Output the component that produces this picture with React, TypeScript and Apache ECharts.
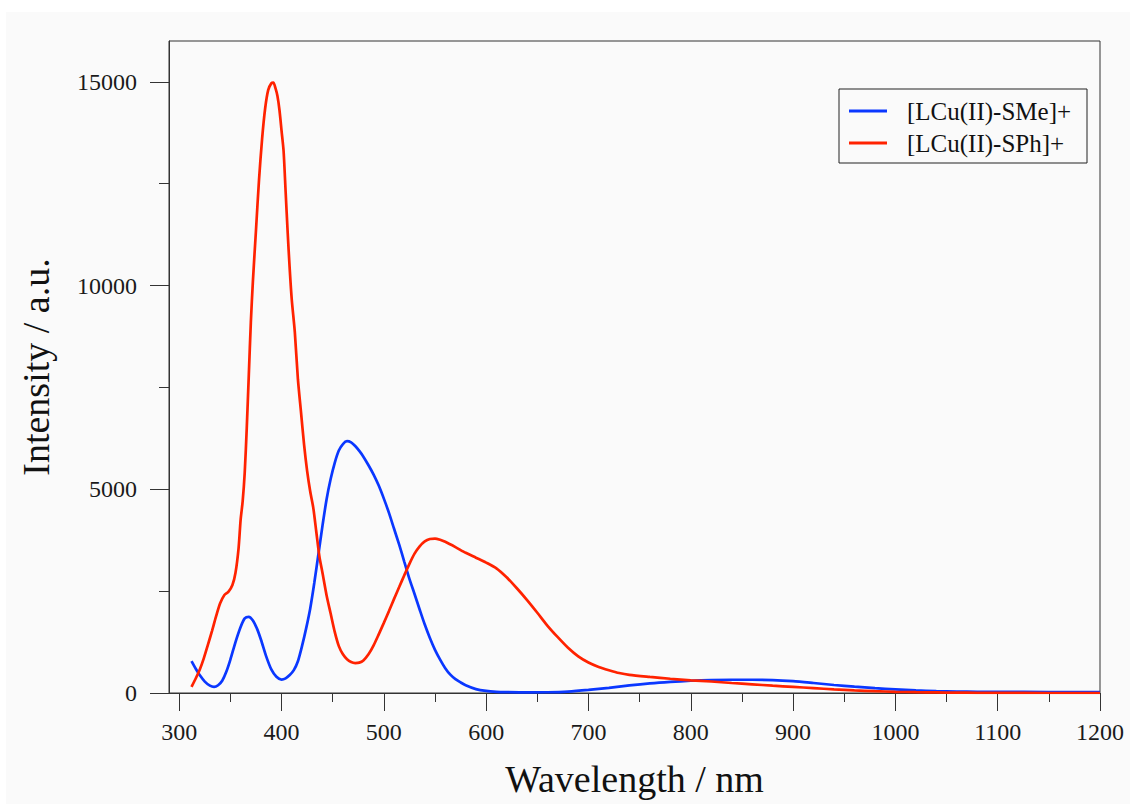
import React, { useEffect, useRef } from "react";
import * as echarts from "echarts";

const FONT = "'Liberation Serif', 'DejaVu Serif', serif";

const seriesNames = ["[LCu(II)-SMe]+", "[LCu(II)-SPh]+"];
const seriesColors = ["#0a37ff", "#ff2200"];

const xMajorTicks = [300, 400, 500, 600, 700, 800, 900, 1000, 1100, 1200];
const xMinorTicks = [350, 450, 550, 650, 750, 850, 950, 1050, 1150];
const yMajorTicks = [0, 5000, 10000, 15000];
const yMinorTicks = [2500, 7500, 12500];

const wlBlue = [
  312, 316, 320, 325, 330, 334, 338, 342, 346, 350, 355, 360, 364, 368, 372, 376, 380, 385, 390, 395,
  400, 404, 408, 412, 416, 420, 424, 428, 432, 436, 440, 444, 448, 452, 456, 460, 464, 468, 472, 476,
  480, 485, 490, 495, 500, 505, 510, 515, 520, 525, 530, 535, 540, 545, 550, 555, 560, 565, 570, 575,
  580, 590, 600, 610, 620, 640, 660, 680, 700, 720, 740, 760, 780, 800, 820, 840, 860, 880, 900, 920,
  940, 960, 980, 1000, 1020, 1040, 1060, 1080, 1100, 1150, 1200,
];
const intBlue = [
  780, 600, 440, 280, 180, 150, 190, 300, 520, 820, 1250, 1620, 1830, 1870, 1780, 1580, 1300, 900, 580, 400,
  330, 360, 440, 560, 780, 1150, 1580, 2070, 2700, 3400, 4100, 4750, 5250, 5650, 5950, 6110, 6180, 6150, 6060, 5940,
  5800, 5590, 5360, 5090, 4770, 4420, 4030, 3640, 3220, 2800, 2430, 2050, 1680, 1350, 1060, 820, 610, 450, 340, 260,
  190, 95, 50, 30, 22, 15, 18, 35, 75, 125, 185, 235, 272, 300, 318, 325, 325, 318, 290, 245,
  197, 155, 118, 90, 65, 47, 36, 30, 26, 25, 25,
];

const wlRed = [
  312, 316, 320, 324, 328, 332, 336, 340, 344, 348, 352, 355, 358, 360, 362, 364, 366, 368, 370, 372,
  375, 378, 381, 384, 387, 390, 392, 394, 396, 398, 400, 402, 404, 406, 408, 410, 413, 416, 419, 422,
  425, 428, 431, 434, 437, 440, 444, 448, 452, 456, 460, 464, 468, 472, 476, 480, 485, 490, 495, 500,
  505, 510, 515, 520, 525, 530, 535, 540, 545, 550, 555, 560, 570, 580, 590, 600, 610, 620, 630, 640,
  650, 660, 670, 680, 690, 700, 710, 720, 730, 740, 760, 780, 800, 820, 840, 860, 880, 900, 920, 940,
  960, 980, 1000, 1020, 1040, 1060, 1080, 1100, 1150, 1200,
];
const intRed = [
  150, 350, 570, 850, 1180, 1520, 1880, 2200, 2400, 2480, 2650, 2950, 3550, 4250, 4700, 5400, 6500, 7800, 9100, 10100,
  11350, 12600, 13600, 14350, 14800, 14960, 14980, 14850, 14650, 14300, 13800, 13300, 12300, 11300, 10400, 9650, 8850, 7700, 6900, 6100,
  5450, 4950, 4550, 3950, 3350, 2950, 2400, 1950, 1500, 1150, 950, 830, 760, 735, 745, 800, 950, 1170, 1440, 1720,
  2010, 2310, 2600, 2890, 3170, 3420, 3600, 3720, 3780, 3790, 3760, 3710, 3580, 3440, 3320, 3200, 3060, 2840, 2570, 2280,
  1970, 1650, 1370, 1110, 900, 750, 640, 560, 490, 445, 395, 350, 312, 282, 245, 212, 180, 150, 120, 90,
  65, 45, 30, 20, 14, 9, 5, 2, 0, 0,
];

export default function App() {
  const ref = useRef<HTMLDivElement>(null);

  useEffect(() => {
    if (!ref.current) return;
    const chart = echarts.init(ref.current, undefined, { renderer: "svg" });

    const labelStyle = {
      fontFamily: FONT,
      fontSize: 24,
      color: "#1a1a1a",
      formatter: (v: number) => String(v),
    };
    const axisLineStyle = { color: "#333", width: 1 };

    chart.setOption({
      animation: false,
      backgroundColor: "transparent",
      grid: {
        left: 169,
        top: 41,
        width: 931,
        height: 652,
        show: true,
        borderColor: "#333",
        borderWidth: 1,
        backgroundColor: "transparent",
      },
      legend: {
        left: 849,
        top: 98,
        orient: "vertical",
        icon: "rect",
        itemWidth: 38,
        itemHeight: 3,
        itemGap: 6,
        padding: 0,
        selectedMode: false,
        data: seriesNames,
        textStyle: {
          fontFamily: FONT,
          fontSize: 25,
          color: "#111",
          lineHeight: 26,
          padding: [0, 0, 0, 15],
        },
      },
      graphic: {
        elements: [
          {
            type: "rect",
            shape: { x: 839, y: 89, width: 248, height: 74 },
            style: { fill: "none", stroke: "#222", lineWidth: 1 },
            silent: true,
          },
        ],
      },
      xAxis: [
        {
          type: "value",
          min: 290,
          max: 1200,
          name: "Wavelength / nm",
          nameLocation: "middle",
          nameGap: 67,
          nameTextStyle: { fontFamily: FONT, fontSize: 38, color: "#111" },
          axisLine: { show: true, lineStyle: axisLineStyle },
          axisTick: { show: true, length: 18, lineStyle: axisLineStyle, customValues: xMajorTicks },
          axisLabel: { ...labelStyle, margin: 27, customValues: xMajorTicks },
          splitLine: { show: false },
        },
        {
          type: "value",
          min: 290,
          max: 1200,
          position: "bottom",
          axisLine: { show: false },
          axisTick: { show: true, length: 9, lineStyle: axisLineStyle, customValues: xMinorTicks },
          axisLabel: { show: false },
          splitLine: { show: false },
        },
      ],
      yAxis: [
        {
          type: "value",
          min: 0,
          max: 16000,
          name: "Intensity / a.u.",
          nameLocation: "middle",
          nameGap: 114,
          nameTextStyle: { fontFamily: FONT, fontSize: 38, color: "#111" },
          axisLine: { show: true, lineStyle: axisLineStyle },
          axisTick: { show: true, length: 19, lineStyle: axisLineStyle, customValues: yMajorTicks },
          axisLabel: { ...labelStyle, margin: 32, customValues: yMajorTicks },
          splitLine: { show: false },
        },
        {
          type: "value",
          min: 0,
          max: 16000,
          position: "left",
          axisLine: { show: false },
          axisTick: { show: true, length: 10, lineStyle: axisLineStyle, customValues: yMinorTicks },
          axisLabel: { show: false },
          splitLine: { show: false },
        },
      ],
      series: [
        {
          name: seriesNames[0],
          type: "line",
          xAxisIndex: 0,
          yAxisIndex: 0,
          data: wlBlue.map((w, i) => [w, intBlue[i]]),
          showSymbol: false,
          smooth: 0.25,
          lineStyle: { color: seriesColors[0], width: 2.7 },
          itemStyle: { color: seriesColors[0] },
          z: 3,
        },
        {
          name: seriesNames[1],
          type: "line",
          xAxisIndex: 0,
          yAxisIndex: 0,
          data: wlRed.map((w, i) => [w, intRed[i]]),
          showSymbol: false,
          smooth: 0.25,
          lineStyle: { color: seriesColors[1], width: 2.7 },
          itemStyle: { color: seriesColors[1] },
          z: 4,
        },
      ],
    });

    return () => chart.dispose();
  }, []);

  return (
    <div style={{ position: "absolute", left: 0, top: 0, width: 1130, height: 804, background: "#ffffff" }}>
      <div style={{ position: "absolute", left: 6, top: 12, width: 1124, height: 792, background: "#fafafa" }} />
      <div ref={ref} style={{ position: "absolute", left: 0, top: 0, width: 1130, height: 804 }} />
    </div>
  );
}
